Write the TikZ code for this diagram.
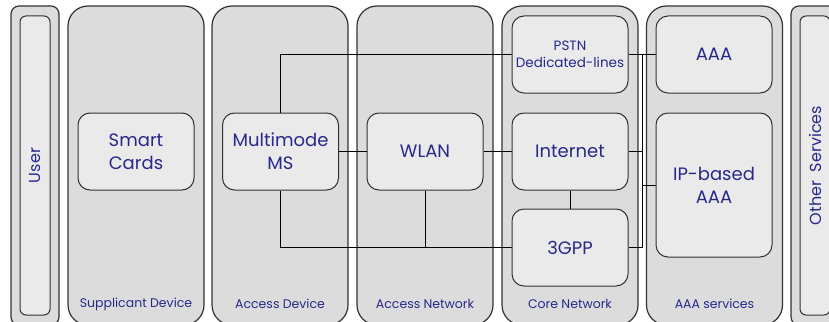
\documentclass[tikz,border=0pt]{standalone}
\usepackage{fontspec}
\setmainfont{Poppins}
\usetikzlibrary{positioning}

\definecolor{colfill}{RGB}{220,220,220}
\definecolor{boxfill}{RGB}{234,234,234}
\definecolor{txtblue}{RGB}{40,40,140}
\definecolor{edgegray}{RGB}{50,50,50}

\tikzset{
  column/.style={draw=edgegray,line width=1.2pt,fill=colfill,rounded corners=20pt,
    minimum width=136pt,minimum height=319pt,inner sep=0pt},
  thin column/.style={column,rounded corners=8pt,minimum width=48pt},
  unit/.style={draw=edgegray,line width=1pt,fill=boxfill,rounded corners=12pt,
    minimum width=116pt,minimum height=77pt,inner sep=2pt,align=center,
    text=txtblue,font=\fontsize{18}{23}\selectfont},
  bar/.style={unit,rounded corners=6pt,minimum width=30pt,minimum height=299pt},
  caption/.style={text=txtblue,font=\fontsize{12.5}{15}\selectfont},
  wire/.style={line width=1pt,black}
}

\begin{document}
\begin{tikzpicture}[x=1pt,y=-1pt]
\useasboundingbox (0,0) rectangle (829,321);
\clip (0,0) rectangle (829,321);

% columns
\node[thin column] (usercol) at (35,165.5) {};
\node[column] (supcol) at (136,165.5) {};
\node[column] (devcol) at (280,165.5) {};
\node[column] (netcol) at (425,165.5) {};
\node[column] (corecol) at (570,165.5) {};
\node[column] (aaacol) at (714.5,165.5) {};
\node[thin column] (othercol) at (815,165.5) {};

\node[bar] (user) at (35,165.5) {};
\node[bar] (other) at (815,165.5) {};
\node[text=txtblue,font=\fontsize{16}{18}\selectfont,rotate=90] (userlbl) at (user) {User};
\node[text=txtblue,font=\fontsize{16}{18}\selectfont,rotate=90] (otherlbl) at (other) {Other\ \ Services};

\node[caption] (suplbl) at (136,304) {Supplicant Device};
\node[caption] (devlbl) at (280,304) {Access Device};
\node[caption] (netlbl) at (425,304) {Access Network};
\node[caption] (corelbl) at (570,304) {Core Network};
\node[caption] (aaalbl) at (714.5,304) {AAA services};

% boxes
\node[unit] (smart) at (136,151.5) {Smart\\Cards};
\node[unit] (mms) at (280.5,151.5) {Multimode\\MS};
\node[unit] (wlan) at (425,151.5) {WLAN};
\node[unit,font=\fontsize{13.5}{17}\selectfont] (pstn) at (570,54.5) {PSTN\\Dedicated-lines};
\node[unit] (internet) at (570,151.5) {Internet};
\node[unit] (tgpp) at (570,247.5) {3GPP};
\node[unit] (aaa) at (714,54.5) {AAA};
\node[unit,minimum height=144pt] (ipaaa) at (714,185) {IP-based\\AAA};

\coordinate (bus) at (642,0);

% links
\draw[wire] (mms.north) |- (pstn.west);
\draw[wire] (mms.south) |- (tgpp.west);
\draw[wire] (mms) -- (wlan);
\draw[wire] (wlan) -- (internet);
\draw[wire] (wlan.south) -- (wlan.south |- tgpp.west);
\draw[wire] (internet) -- (tgpp);
\draw[wire] (pstn.east) -- (aaa.west);
\draw[wire] (bus |- pstn.east) -- (bus |- tgpp.east);
\draw[wire] (internet.east) -- (bus |- internet.east);
\draw[wire] (tgpp.east) -- (bus |- tgpp.east);
\draw[wire] (bus |- ipaaa.west) -- (ipaaa.west);
\end{tikzpicture}
\end{document}
